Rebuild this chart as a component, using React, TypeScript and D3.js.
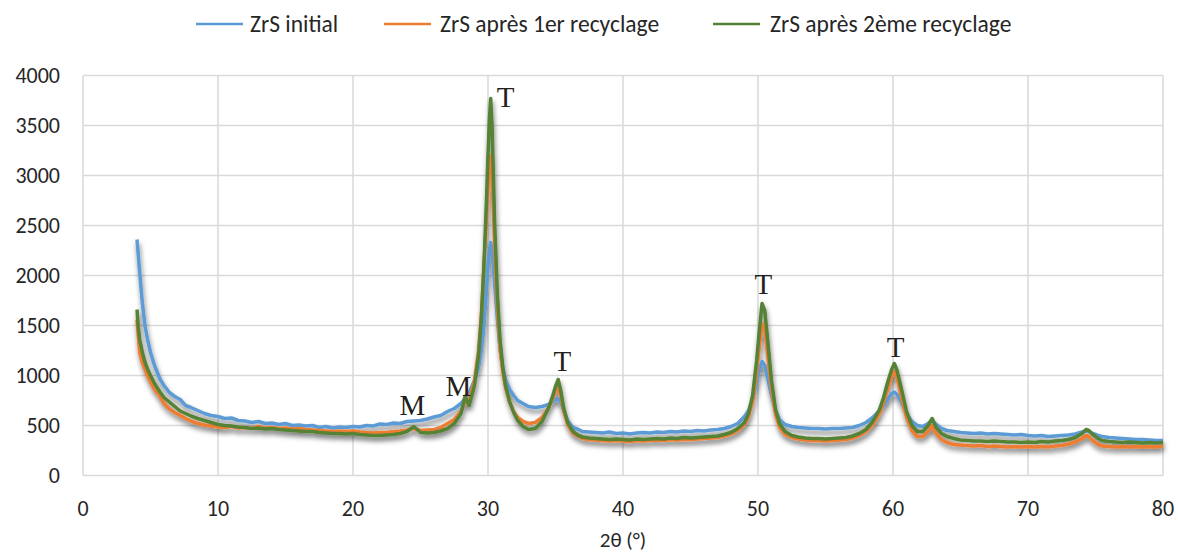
import React from "react";
import * as d3 from "d3";

// 2θ positions (degrees) shared by the three patterns
const angles: number[] = [
  4.0, 4.1, 4.2, 4.4, 4.6, 4.8, 5.0, 5.3, 5.7, 6.0, 6.4, 6.8, 7.2, 7.6, 8.0, 8.5, 9.0, 9.5,
  10, 10.5, 11, 11.5, 12, 12.5, 13, 13.5, 14, 14.5, 15, 15.5, 16, 16.5, 17, 17.5, 18, 18.5,
  19, 19.5, 20, 20.5, 21, 21.5, 22, 22.5, 23, 23.5, 24, 24.5, 25, 25.5, 26, 26.5, 27, 27.5,
  28, 28.3, 28.6, 29, 29.3, 29.5, 29.7, 29.9, 30.0, 30.1, 30.2, 30.3, 30.4, 30.5, 30.7, 30.9,
  31.1, 31.3, 31.6, 31.9, 32.2, 32.6, 33.0, 33.5, 34.0, 34.5, 34.8, 35.0, 35.2, 35.4, 35.6, 35.9, 36.3, 36.7,
  37, 37.5, 38, 38.5, 39, 39.5, 40, 40.5, 41, 41.5, 42, 42.5, 43, 43.5, 44, 44.5, 45, 45.5, 46, 46.5, 47, 47.5, 48, 48.5,
  49, 49.3, 49.6, 49.9, 50.1, 50.3, 50.5, 50.7, 51.0, 51.3, 51.6, 52.0,
  52.5, 53, 53.5, 54, 54.5, 55, 55.5, 56, 56.5, 57, 57.5, 58, 58.5,
  59, 59.3, 59.6, 59.9, 60.1, 60.3, 60.6, 61.0, 61.4, 61.8, 62.2, 62.6, 62.9, 63.2, 63.6, 64,
  64.5, 65, 65.5, 66, 66.5, 67, 67.5, 68, 68.5, 69, 69.5, 70, 70.5, 71, 71.5, 72, 72.5, 73, 73.5,
  74, 74.3, 74.5, 74.8, 75.2, 75.5,
  76, 76.5, 77, 77.5, 78, 78.5, 79, 79.5, 80,
];

const zrsInitial: number[] = [
  2360, 2200, 2030, 1720, 1490, 1350, 1230, 1100, 965, 900, 830, 790, 760, 700, 680, 650, 620, 600,
  590, 570, 575, 550, 545, 530, 540, 520, 525, 510, 520, 500, 505, 495, 500, 480, 490, 475,
  485, 480, 490, 485, 500, 495, 515, 510, 525, 520, 540, 545, 550, 565, 585, 600, 640, 670,
  720, 770, 830, 950, 1080, 1250, 1500, 1900, 2100, 2250, 2330, 2250, 2100, 1900, 1550, 1250,
  1080, 960, 860, 800, 750, 720, 690, 680, 690, 710, 740, 760, 770, 730, 650, 550, 480, 460,
  440, 435, 430, 425, 435, 420, 425, 415, 425, 430, 425, 435, 430, 440, 435, 445, 440, 450, 445, 455, 460, 470, 490, 520,
  590, 650, 760, 930, 1060, 1140, 1100, 980, 800, 650, 560, 510,
  490, 480, 475, 470, 470, 465, 470, 470, 475, 480, 500, 530, 580,
  650, 700, 760, 820, 835, 810, 740, 620, 540, 500, 490, 520, 550, 510, 470, 450,
  440, 430, 425, 420, 425, 415, 420, 415, 410, 405, 410, 400, 395, 400, 390, 395, 400, 405, 415,
  435, 445, 440, 420, 400, 390,
  380, 375, 370, 365, 360, 360, 355, 350, 350,
];

const zrsRecycle1: number[] = [
  1560, 1380, 1230, 1130, 1060, 990, 935, 860, 790, 720, 665, 630, 600, 570, 545, 520, 505, 495,
  485, 480, 490, 475, 480, 470, 490, 475, 480, 470, 475, 465, 470, 460, 455, 450, 445, 440,
  445, 440, 445, 435, 430, 425, 430, 430, 440, 445, 455, 470, 450, 455, 460, 480, 520, 560,
  640, 740, 760, 950, 1250, 1600, 2100, 2600, 2900, 3100, 3200, 3000, 2650, 2250, 1650, 1250,
  1030, 880, 730, 640, 580, 540, 520, 530, 580, 680, 770, 840, 890, 790, 650, 510, 420, 390,
  370, 360, 355, 350, 345, 350, 345, 340, 350, 345, 350, 355, 350, 360, 355, 360, 360, 365, 370, 375, 380, 395, 415, 450,
  510, 590, 740, 1030, 1300, 1520, 1470, 1220, 860, 610, 480, 410,
  380, 365, 355, 350, 350, 345, 350, 355, 360, 375, 400, 440, 510,
  620, 730, 860, 990, 1040, 980, 800, 580, 450, 390, 390, 440, 500, 420, 360, 330,
  310, 305, 300, 295, 300, 290, 295, 290, 285, 290, 285, 290, 285, 290, 285, 295, 300, 315, 335,
  370, 400, 390, 350, 310, 295,
  290, 285, 290, 285, 290, 285, 290, 285, 295,
];

const zrsRecycle2: number[] = [
  1660, 1480, 1360, 1230, 1130, 1060, 1000, 920, 835, 780, 735, 690, 645, 620, 595, 570, 550, 530,
  510, 500, 495, 485, 480, 470, 475, 465, 470, 460, 455, 450, 445, 440, 440, 430, 425, 420,
  420, 415, 420, 410, 405, 400, 400, 405, 410, 420, 440, 490, 430, 425, 430, 445, 470, 520,
  620, 790, 700, 900, 1200, 1550, 2100, 2800, 3200, 3550, 3770, 3500, 3000, 2500, 1800, 1350,
  1080, 900, 740, 630, 550, 490, 460, 470, 540, 680, 800, 890, 960, 840, 680, 530, 440, 400,
  385, 375, 370, 365, 360, 365, 360, 355, 365, 360, 365, 370, 365, 375, 370, 380, 375, 380, 385, 390, 395, 410, 430, 470,
  530, 620, 800, 1150, 1450, 1720, 1650, 1380, 950, 660, 520, 440,
  400, 385, 375, 370, 370, 365, 370, 375, 380, 395, 420, 460, 540,
  660, 780, 930, 1060, 1120, 1050, 880, 640, 500, 440, 440, 500, 570, 480, 420, 390,
  370, 355, 350, 345, 345, 340, 345, 340, 335, 335, 330, 335, 330, 340, 335, 345, 350, 360, 380,
  420, 460, 450, 410, 370, 350,
  340, 335, 330, 335, 330, 325, 330, 325, 330,
];

const seriesNames: string[] = ["ZrS initial", "ZrS après 1er recyclage", "ZrS après 2ème recyclage"];
const seriesColors: string[] = ["#5b9bd5", "#ed7d31", "#548235"];
const xTicks: number[] = [0, 10, 20, 30, 40, 50, 60, 70, 80];
const yTicks: number[] = [0, 500, 1000, 1500, 2000, 2500, 3000, 3500, 4000];

// peak annotations: label, 2θ, intensity at label baseline
const annLabels: string[] = ["T", "T", "T", "T", "M", "M"];
const annX: number[] = [31.3, 35.5, 50.4, 60.2, 24.4, 27.8];
const annY: number[] = [3690, 1050, 1820, 1190, 610, 800];

const W = 1178;
const H = 554;
const M = { left: 83, right: 15, top: 75.5, bottom: 78.5 };
const FONT = "Carlito, Calibri, Lato, 'Open Sans', sans-serif";

export default function App() {
  const x = d3.scaleLinear().domain([0, 80]).range([M.left, W - M.right]);
  const y = d3.scaleLinear().domain([0, 4000]).range([H - M.bottom, M.top]);
  const series = [zrsInitial, zrsRecycle1, zrsRecycle2];
  const line = d3
    .line<number>()
    .x((_, i) => x(angles[i]))
    .y((d) => y(d));

  const legendLineX = [196, 384, 713];
  const legendTextX = [250, 440, 770];

  return (
    <svg width={W} height={H} style={{ position: "absolute", left: 0, top: 0, background: "#fff" }}>
      <defs>
        <filter id="shadow" x="-5%" y="-10%" width="110%" height="130%">
          <feDropShadow dx="1" dy="4" stdDeviation="2.5" floodColor="#000" floodOpacity="0.5" />
        </filter>
      </defs>
      {/* grid */}
      <g stroke="#d9d9d9" strokeWidth={1.5}>
        {yTicks.map((t) => (
          <line key={"y" + t} x1={x(0)} x2={x(80)} y1={y(t)} y2={y(t)} />
        ))}
        {xTicks.map((t) => (
          <line key={"x" + t} x1={x(t)} x2={x(t)} y1={y(0)} y2={y(4000)} />
        ))}
      </g>
      {/* y tick labels */}
      <g fontFamily={FONT} fontSize={22} fill="#262626" textAnchor="end">
        {yTicks.map((t) => (
          <text key={t} x={60} y={y(t)} dy="0.35em">
            {t}
          </text>
        ))}
      </g>
      {/* x tick labels */}
      <g fontFamily={FONT} fontSize={22} fill="#262626" textAnchor="middle">
        {xTicks.map((t) => (
          <text key={t} x={x(t)} y={508} dy="0.35em">
            {t}
          </text>
        ))}
        <text x={623} y={540} dy="0.35em" fontSize={21}>
          2θ (°)
        </text>
      </g>
      {/* series */}
      <g filter="url(#shadow)">
        {series.map((s, i) => (
          <path
            key={i}
            d={line(s) || ""}
            fill="none"
            stroke={seriesColors[i]}
            strokeWidth={3.5}
            strokeLinejoin="round"
          />
        ))}
      </g>
      {/* annotations */}
      <g fontFamily="'Liberation Serif', 'Times New Roman', serif" fontSize={29} fill="#231f20" textAnchor="middle">
        {annLabels.map((l, i) => (
          <text key={i} x={x(annX[i])} y={y(annY[i])}>
            {l}
          </text>
        ))}
      </g>
      {/* legend */}
      <g fontFamily={FONT} fontSize={23.5} fill="#262626">
        {seriesNames.map((n, i) => (
          <g key={n}>
            <line
              x1={legendLineX[i]}
              x2={legendLineX[i] + 47}
              y1={24}
              y2={24}
              stroke={seriesColors[i]}
              strokeWidth={2.5}
            />
            <text x={legendTextX[i]} y={24} dy="0.35em">
              {n}
            </text>
          </g>
        ))}
      </g>
    </svg>
  );
}
